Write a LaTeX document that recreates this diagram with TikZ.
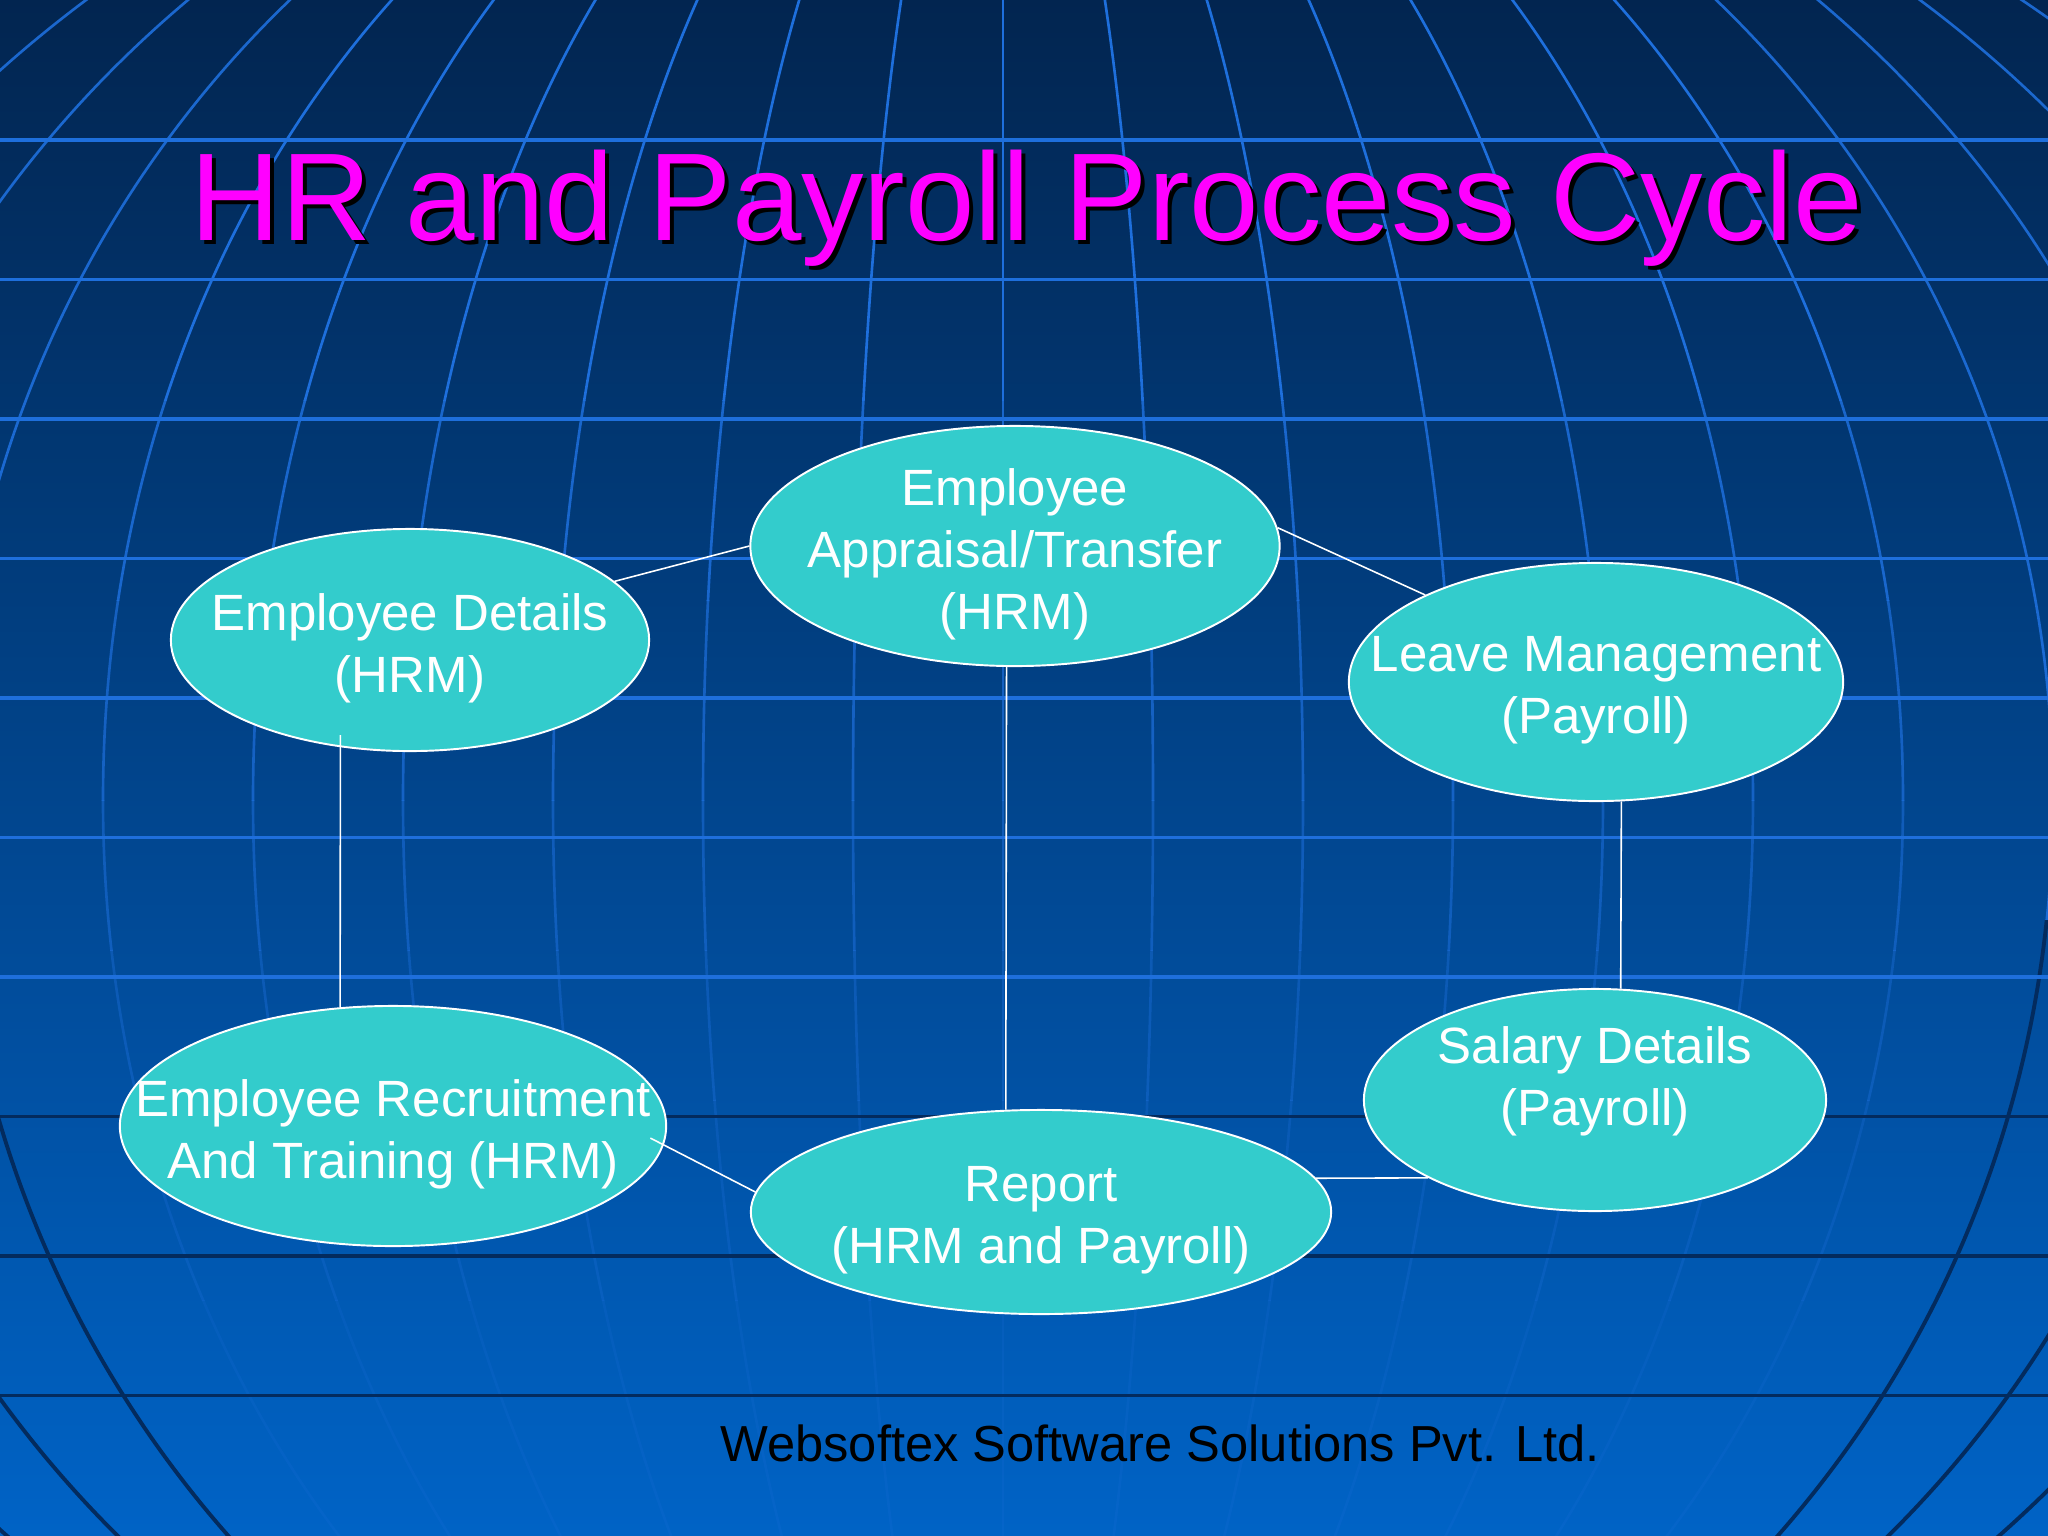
\documentclass[tikz,border=0pt]{standalone}
\usepackage{fontspec}
\setmainfont{Liberation Sans}
\usetikzlibrary{shapes.geometric}
\definecolor{bgtop}{HTML}{022550}
\definecolor{bgmid}{HTML}{00428C}
\definecolor{bgbot}{HTML}{0063C6}
\definecolor{gridlight}{HTML}{1E6FDC}
\definecolor{griddark}{HTML}{032B5E}
\definecolor{cellfill}{HTML}{33CCCC}
\definecolor{titlemag}{HTML}{FF00FF}
\newcommand\cellfont{\fontsize{14.5}{17.6}\selectfont}
\newcommand\titlefont{\fontsize{35.5}{40}\selectfont}
\newcommand\footfont{\fontsize{14.4}{17}\selectfont}
\newcommand\drawmeridians[2]{\foreach \k in {#2}{\draw[#1] (1003,800) ellipse [x radius=150*\k, y radius=1090];}}
\begin{document}
\begin{tikzpicture}[x=0.01cm, y=-0.01cm,
  cell/.style={ellipse, draw=white, line width=0.55pt, fill=cellfill, inner sep=0pt},
  celltext/.style={text=white, font=\cellfont, align=center, inner sep=0pt},
  link/.style={draw=white, line width=0.45pt},
  hline/.style={line width=1.05pt},
  merid/.style={line width=0.75pt},
]
\useasboundingbox (0,0) rectangle (2048,1536);
\shade[top color=bgtop, middle color=bgmid, bottom color=bgbot] (0,0) rectangle (2048,1536);

% globe meridians, fading downwards
\foreach \ya/\yb/\op in {0/400/1, 400/600/0.85, 600/800/0.7, 800/950/0.55, 950/1100/0.4, 1100/1300/0.28, 1300/1536/0.18}{
  \begin{scope}
    \clip (0,\ya) rectangle (2048,\yb);
    \drawmeridians{merid, draw=gridlight, opacity=\op}{1,2,3,4,5,6}
    \draw[merid, draw=gridlight, opacity=\op] (1003,0) -- (1003,1536);
  \end{scope}
}
\begin{scope}
  \clip (0,0) rectangle (2048,920);
  \drawmeridians{merid, draw=gridlight, opacity=0.9}{7,8,9,10}
\end{scope}
\begin{scope}
  \clip (0,920) rectangle (2048,1536);
  \drawmeridians{line width=1.1pt, draw=griddark}{7,8,9,10}
\end{scope}

% horizontal grid lines
\foreach \i in {0,...,6}{
  \draw[hline, draw=gridlight] (0,{140+139.5*\i}) -- (2048,{140+139.5*\i});
}
\foreach \i in {7,8,9}{
  \draw[hline, draw=griddark] (0,{140+139.5*\i}) -- (2048,{140+139.5*\i});
}

% title
\node[anchor=base, font=\titlefont, text=black, inner sep=0pt] (titleshadow) at (1031,244) {HR and Payroll Process Cycle};
\node[anchor=base, font=\titlefont, text=titlemag, inner sep=0pt] (title) at (1027,240) {HR and Payroll Process Cycle};

% ellipses
\node[cell, minimum width=4.78cm, minimum height=2.22cm] (ed) at (410,640) {};
\node[cell, minimum width=5.29cm, minimum height=2.40cm] (ap) at (1015,546) {};
\node[cell, minimum width=4.94cm, minimum height=2.38cm] (lv) at (1596,682) {};
\node[cell, minimum width=4.62cm, minimum height=2.22cm] (sl) at (1595,1100) {};
\node[cell, minimum width=5.80cm, minimum height=2.04cm] (rep) at (1041,1212) {};
\node[cell, minimum width=5.46cm, minimum height=2.40cm] (rc) at (393,1126) {};

% connectors
\draw[link] (ed.16) -- (ap.180);
\draw[link] (ap.4) -- (lv.153);
\draw[link] (lv.-78) -- (sl.77);
\draw[link] (rep.7) -- (sl.205);
\draw[link, shorten <=-0.15cm] (rc.-4) -- (rep.176);
\draw[link, shorten >=-0.12cm] (rc.114) -- (ed.237);
\draw[link] (ap.-94) -- (rep.109);

% texts
\node[celltext] (edt) at (410,648) {Employee Details\\(HRM)};
\node[celltext] (apt) at (1015,554) {Employee\\Appraisal/Transfer\\(HRM)};
\node[celltext] (lvt) at (1596,690) {Leave Management\\(Payroll)};
\node[celltext] (slt) at (1595,1081) {Salary Details\\(Payroll)};
\node[celltext] (rept) at (1041,1220) {Report\\(HRM and Payroll)};
\node[celltext] (rct) at (393,1134) {Employee Recruitment\\And Training (HRM)};

% footer
\node[anchor=base, font=\footfont, text=black, inner sep=0pt] (footer) at (1160,1461) {Websoftex Software Solutions Pvt. Ltd.};
\end{tikzpicture}
\end{document}
